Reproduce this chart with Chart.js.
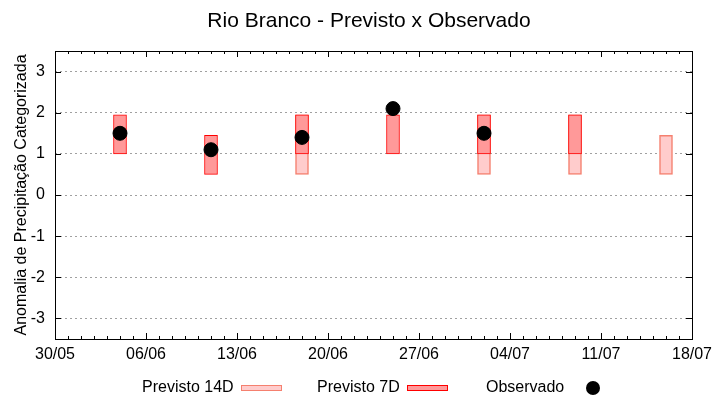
<!DOCTYPE html>
<html>
<head>
<meta charset="utf-8">
<script src="https://cdn.jsdelivr.net/npm/chart.js@4.4.1/dist/chart.umd.min.js"></script>
<style>
  html, body { margin: 0; padding: 0; background: #ffffff; }
  #wrap { position: relative; width: 720px; height: 400px; }
</style>
</head>
<body>
<div id="wrap"><canvas id="c" width="720" height="400"></canvas></div>
<script>
// ---- data ----
const titleText = 'Rio Branco - Previsto x Observado';
const yAxisTitle = 'Anomalia de Precipitação Categorizada';
const categories = ['04/06', '11/06', '18/06', '25/06', '02/07', '09/07', '16/07'];
const previsto14DMin = [null, null, 0.5, null, 0.5, 0.5, 0.5];
const previsto14DMax = [null, null, 1.95, null, 1.95, 1.95, 1.45];
const previsto7DMin = [1, 0.5, 1, 1, 1, 1, null];
const previsto7DMax = [1.95, 1.45, 1.95, 1.95, 1.95, 1.95, null];
const observado = [1.5, 1.1, 1.4, 2.1, 1.5, null, null];
const xTickLabels = ['30/05', '06/06', '13/06', '20/06', '27/06', '04/07', '11/07', '18/07'];
const yTickValues = [-3, -2, -1, 0, 1, 2, 3];
const legendLabels = ['Previsto 14D', 'Previsto 7D', 'Observado'];

// ---- helpers ----
function dayIndex(label) {
  const [d, m] = label.split('/').map(Number);
  const [d0, m0] = xTickLabels[0].split('/').map(Number);
  return Math.round((Date.UTC(2000, m - 1, d) - Date.UTC(2000, m0 - 1, d0)) / 86400000);
}
const xMax = dayIndex(xTickLabels[xTickLabels.length - 1]);
const xTickDays = xTickLabels.map(dayIndex);

function rangeData(mins, maxs) {
  return categories.map((c, i) => (mins[i] == null ? null : { x: dayIndex(c), y: [mins[i], maxs[i]] })).filter(Boolean);
}
const pointData = categories.map((c, i) => (observado[i] == null ? null : { x: dayIndex(c), y: observado[i] })).filter(Boolean);

const FONT = '"Liberation Sans", Arial, sans-serif';
const C14_FILL = '#FFCCCC', C14_BORDER = '#F5806F';
const C7_FILL = '#FF9999', C7_BORDER = '#FF0000';

const framePlugin = {
  id: 'frame',
  beforeDatasetsDraw(chart) {
    const { ctx, chartArea: a, scales } = chart;
    ctx.save();
    ctx.strokeStyle = '#000';
    ctx.lineWidth = 1;
    ctx.beginPath();
    // tick marks, inward, mirrored
    for (let d = 0; d <= xMax; d++) {
      const x = Math.round(scales.x.getPixelForValue(d)) + 0.5;
      const len = xTickDays.includes(d) ? 6 : 3;
      ctx.moveTo(x, a.bottom); ctx.lineTo(x, a.bottom - len);
      ctx.moveTo(x, a.top); ctx.lineTo(x, a.top + len);
    }
    yTickValues.forEach(v => {
      const y = Math.round(scales.y.getPixelForValue(v)) + 0.5;
      ctx.moveTo(a.left, y); ctx.lineTo(a.left + 6, y);
      ctx.moveTo(a.right, y); ctx.lineTo(a.right - 6, y);
    });
    ctx.stroke();
    ctx.strokeRect(Math.round(a.left) + 0.5, Math.round(a.top) + 0.5, Math.round(a.right - a.left), Math.round(a.bottom - a.top));
    ctx.restore();
  },
  afterDraw(chart) {
    const { ctx, chartArea: a } = chart;
    ctx.save();
    ctx.fillStyle = '#000';
    // title
    ctx.font = '21px ' + FONT;
    ctx.textAlign = 'center';
    ctx.textBaseline = 'alphabetic';
    ctx.fillText(titleText, 369, 27);
    // y axis title
    ctx.save();
    ctx.translate(26, (a.top + a.bottom) / 2);
    ctx.rotate(-Math.PI / 2);
    ctx.font = '16px ' + FONT;
    ctx.textAlign = 'center';
    ctx.fillText(yAxisTitle, 0, 0);
    ctx.restore();
    // legend
    ctx.font = '16px ' + FONT;
    ctx.textAlign = 'left';
    ctx.fillText(legendLabels[0], 142, 392);
    ctx.fillText(legendLabels[1], 317, 392);
    ctx.fillText(legendLabels[2], 486, 392);
    ctx.lineWidth = 1;
    ctx.fillStyle = C14_FILL; ctx.fillRect(241, 385, 41, 6);
    ctx.strokeStyle = C14_BORDER; ctx.strokeRect(241.5, 385.5, 40, 5);
    ctx.fillStyle = C7_FILL; ctx.fillRect(407, 385, 41, 6);
    ctx.strokeStyle = C7_BORDER; ctx.strokeRect(407.5, 385.5, 40, 5);
    ctx.fillStyle = '#000';
    ctx.beginPath(); ctx.arc(593, 388, 7, 0, Math.PI * 2); ctx.fill();
    ctx.restore();
  }
};

new Chart(document.getElementById('c'), {
  type: 'bar',
  data: {
    datasets: [
      { type: 'scatter', label: legendLabels[2], data: pointData, order: 0,
        pointRadius: 7, pointHoverRadius: 7, backgroundColor: '#000', borderColor: '#000', showLine: false },
      { label: legendLabels[1], data: rangeData(previsto7DMin, previsto7DMax), order: 1, grouped: false,
        backgroundColor: C7_FILL, borderColor: C7_BORDER, borderWidth: 1, borderSkipped: false, barThickness: 13 },
      { label: legendLabels[0], data: rangeData(previsto14DMin, previsto14DMax), order: 2, grouped: false,
        backgroundColor: C14_FILL, borderColor: C14_BORDER, borderWidth: 1.5, borderSkipped: false, barThickness: 13 }
    ]
  },
  options: {
    responsive: false,
    animation: false,
    layout: { padding: { top: 51, right: 28, bottom: 0, left: 0 } },
    plugins: { legend: { display: false }, title: { display: false }, tooltip: { enabled: false } },
    scales: {
      x: {
        type: 'linear', min: 0, max: xMax, offset: false,
        afterFit(s) { s.height = 61; },
        afterBuildTicks(s) { s.ticks = xTickDays.map(v => ({ value: v })); },
        ticks: { padding: 6, color: '#000', font: { family: FONT, size: 16 }, maxRotation: 0, autoSkip: false,
          callback: (v) => xTickLabels[xTickDays.indexOf(v)] },
        grid: { display: false, drawTicks: false },
        border: { display: false }
      },
      y: {
        type: 'linear', min: -3.5, max: 3.5,
        afterFit(s) { s.width = 55; },
        afterBuildTicks(s) { s.ticks = yTickValues.map(v => ({ value: v })); },
        ticks: { padding: 10, color: '#000', font: { family: FONT, size: 16 } },
        grid: { drawTicks: false, color: '#a0a0a0', lineWidth: 1 },
        border: { display: false, dash: [2, 3] }
      }
    }
  },
  plugins: [framePlugin]
});
</script>
</body>
</html>
